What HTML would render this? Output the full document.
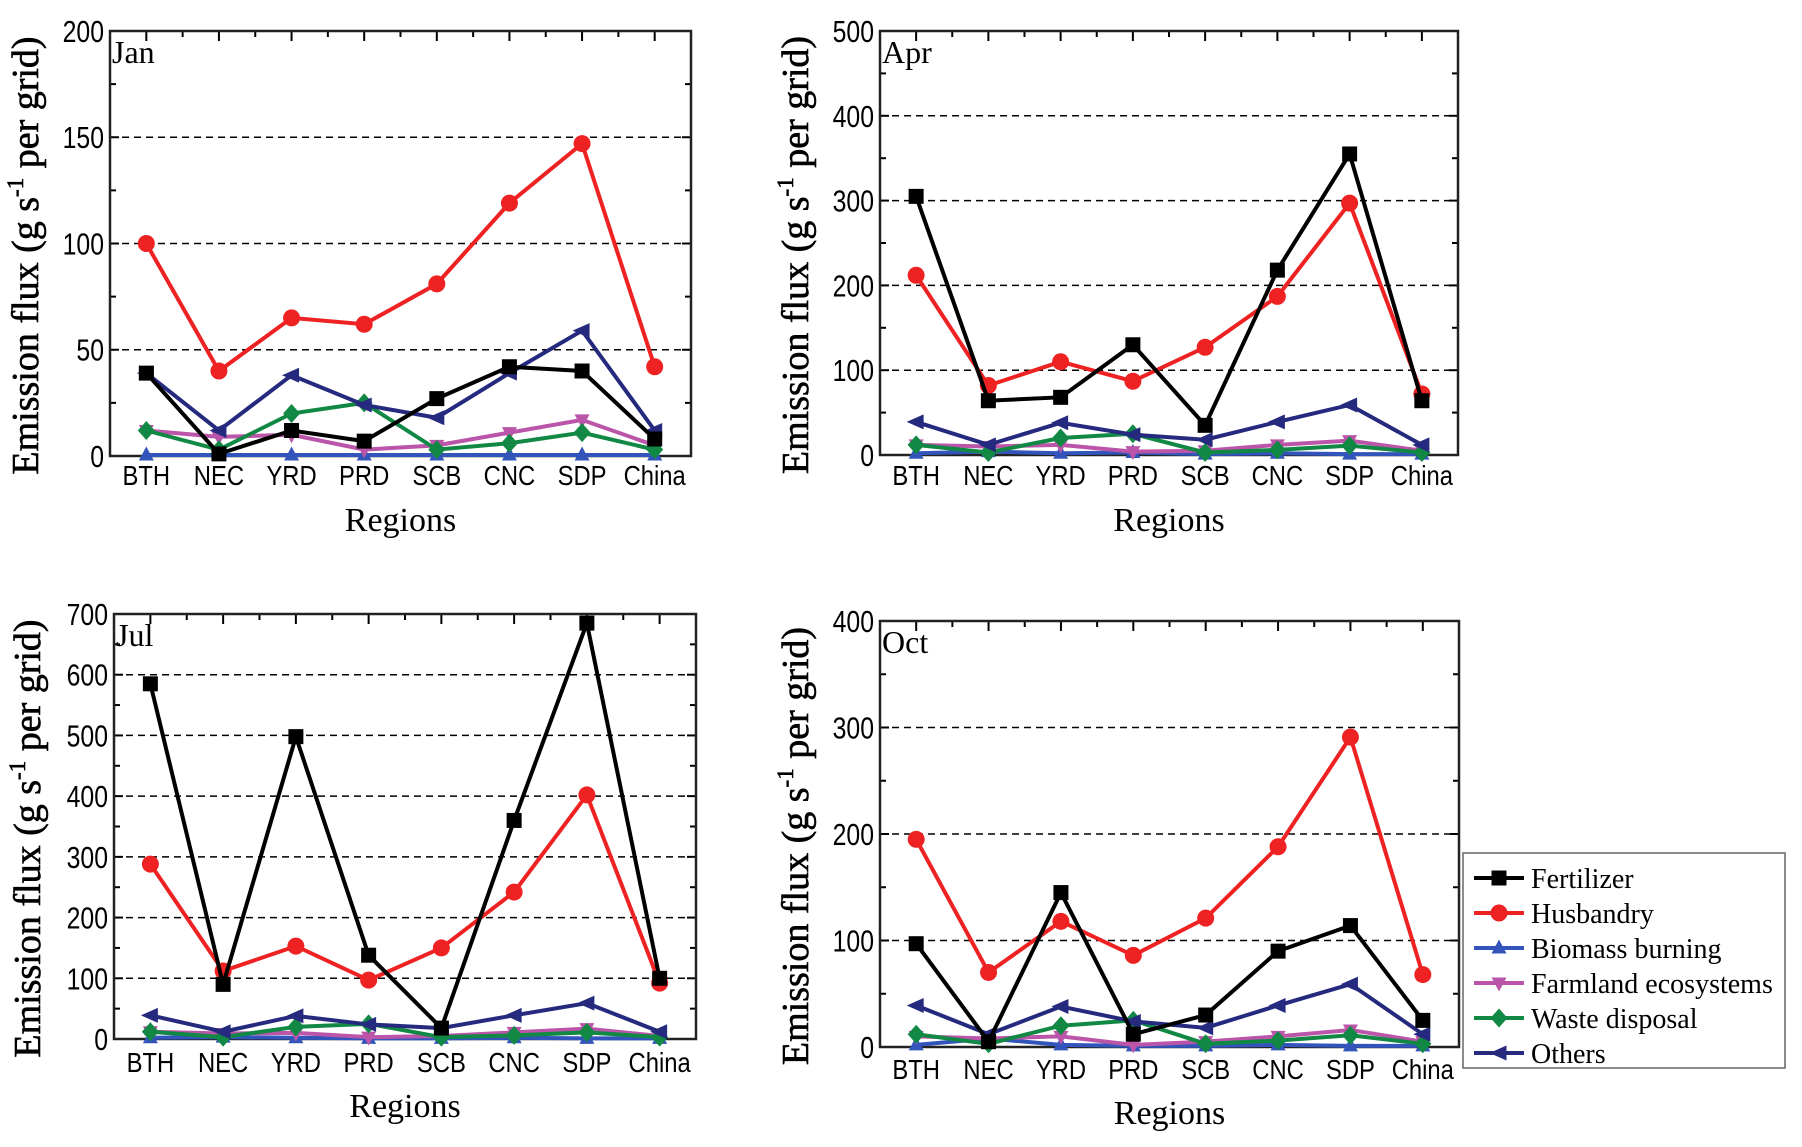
<!DOCTYPE html>
<html><head><meta charset="utf-8"><style>
html,body{margin:0;padding:0;background:#fff;width:1802px;height:1147px;overflow:hidden}
svg{display:block}
</style></head><body>
<svg id="fig" width="1802" height="1147" viewBox="0 0 1802 1147" xmlns="http://www.w3.org/2000/svg"></svg>
<script>
const categories = ["BTH","NEC","YRD","PRD","SCB","CNC","SDP","China"];
const seriesNames = ["Fertilizer","Husbandry","Biomass burning","Farmland ecosystems","Waste disposal","Others"];
const seriesColors = ["#000000","#ee2222","#3355bb","#bb55aa","#118844","#262a7e"];
const seriesMarkers = ["square","circle","up","down","diamond","left"];

const janFertilizer = [39,1,12,7,27,42,40,8];
const janHusbandry = [100,40,65,62,81,119,147,42];
const janBiomass = [0.5,0.5,0.5,0.5,0.5,0.5,0.5,0.5];
const janFarmland = [12,9,10,3,5,11,17,5];
const janWaste = [12,3,20,25,3,6,11,3];
const janOthers = [39,12,38,24,18,39,59,12];

const aprFertilizer = [305,64,68,130,35,218,355,64];
const aprHusbandry = [212,82,110,87,127,187,297,72];
const aprBiomass = [2,4,2,3,1,2,1,1];
const aprFarmland = [12,10,12,4,5,12,17,5];
const aprWaste = [12,3,20,25,3,6,11,3];
const aprOthers = [39,12,38,24,18,39,59,12];

const julFertilizer = [585,90,498,138,18,360,685,100];
const julHusbandry = [288,112,153,97,150,242,402,92];
const julBiomass = [2,3,2,1,1,2,1,1];
const julFarmland = [12,9,10,3,5,11,17,5];
const julWaste = [12,3,20,25,3,6,11,3];
const julOthers = [39,12,38,24,18,39,59,12];

const octFertilizer = [97,5,145,12,30,90,114,25];
const octHusbandry = [195,70,118,86,121,188,291,68];
const octBiomass = [2,8,2,1,1,2,1,1];
const octFarmland = [10,8,10,2,5,10,16,5];
const octWaste = [12,3,20,25,3,6,11,3];
const octOthers = [39,12,38,24,18,39,59,12];

const janTicks = [0,50,100,150,200];
const aprTicks = [0,100,200,300,400,500];
const julTicks = [0,100,200,300,400,500,600,700];
const octTicks = [0,100,200,300,400];

const NS="http://www.w3.org/2000/svg";
const svg=document.getElementById('fig');
function mk(tag,attrs,parent){const e=document.createElementNS(NS,tag);for(const k in attrs)e.setAttribute(k,attrs[k]);(parent||svg).appendChild(e);return e;}

function marker(g,type,x,y,color){
  const s=7.5;let e;
  if(type==="square"){e=mk('rect',{x:x-s,y:y-s,width:2*s,height:2*s,fill:color},g);}
  else if(type==="circle"){e=mk('circle',{cx:x,cy:y,r:s+1,fill:color},g);}
  else if(type==="up"){e=mk('polygon',{points:`${x},${y-s-1} ${x+s},${y+s-2} ${x-s},${y+s-2}`,fill:color},g);}
  else if(type==="down"){e=mk('polygon',{points:`${x},${y+s+1} ${x+s},${y-s+2} ${x-s},${y-s+2}`,fill:color},g);}
  else if(type==="diamond"){e=mk('polygon',{points:`${x},${y-s-2} ${x+s+1},${y} ${x},${y+s+2} ${x-s-1},${y}`,fill:color},g);}
  else {e=mk('polygon',{points:`${x-s-2},${y} ${x+s},${y-s} ${x+s},${y+s}`,fill:color},g);}
  
  
}

function panel(name,L,R,T,B,ticks,minorStep,series,labelY,titleY,axTitleX){
  const g=mk('g',{});
  
  
  const ymax=ticks[ticks.length-1];
  const ys=v=>B-(v/ymax)*(B-T);
  const xs=i=>L+(i+0.5)*(R-L)/categories.length;
  ticks.forEach(t=>{ if(t>0&&t<ymax){const l=mk('line',{x1:L,x2:R,y1:ys(t),y2:ys(t),stroke:'#000','stroke-width':1.5,'stroke-dasharray':'7,5'},g);
    
    }});
  for(let v=0;v<=ymax+0.001;v+=minorStep){const major=ticks.includes(v);const len=major?9:6;
    mk('line',{x1:L,x2:L+len,y1:ys(v),y2:ys(v),stroke:'#000','stroke-width':2},g);
    mk('line',{x1:R,x2:R-len,y1:ys(v),y2:ys(v),stroke:'#000','stroke-width':2},g);}
  const step=(R-L)/categories.length;
  for(let k=0;k<=2*categories.length;k++){const x=L+k*step/2;const major=k%2===1;
    mk('line',{x1:x,x2:x,y1:T,y2:T+(major?10:6),stroke:'#000','stroke-width':2},g);}
  const fr=mk('rect',{x:L,y:T,width:R-L,height:B-T,fill:'none',stroke:'#222','stroke-width':2.5},g);
  
  
  ticks.forEach(t=>{const tx=mk('text',{x:L-6,y:ys(t)+11,'text-anchor':'end','font-family':'Liberation Sans, sans-serif','font-size':31,transform:`translate(${L-6},0) scale(0.8,1) translate(${-(L-6)},0)`},g);tx.textContent=t;
    
    });
  categories.forEach((c,i)=>{const tx=mk('text',{x:xs(i),y:labelY,'text-anchor':'middle','font-family':'Liberation Sans, sans-serif','font-size':28,transform:`translate(${xs(i)},0) scale(0.85,1) translate(${-xs(i)},0)`},g);tx.textContent=c;
    
    });
  const rt=mk('text',{x:(L+R)/2,y:titleY,'text-anchor':'middle','font-family':'Liberation Serif, serif','font-size':34},g);rt.textContent='Regions';
  
  
  const cy=(T+B)/2+12;
  const yt=mk('text',{x:0,y:0,'text-anchor':'middle','font-family':'Liberation Serif, serif','font-size':38,'stroke':'#000','stroke-width':0.6,transform:`translate(${axTitleX},${cy}) rotate(-90)`},g);
  yt.innerHTML='Emission flux (g s<tspan dy="-15" font-size="23">-1</tspan><tspan dy="15"> per grid)</tspan>';
  
  
  const pl=mk('text',{x:L+2,y:T+32,'font-family':'Liberation Serif, serif','font-size':32},g);pl.textContent=name;
  
  
  const order=[2,3,4,5,1,0];
  order.forEach(si=>{const vals=series[si];const sg=mk('g',{},g);
    
    
    mk('polyline',{points:vals.map((v,i)=>xs(i)+','+ys(v)).join(' '),fill:'none',stroke:seriesColors[si],'stroke-width':4,'stroke-linejoin':'miter'},sg);
    vals.forEach((v,i)=>marker(sg,seriesMarkers[si],xs(i),ys(v),seriesColors[si]));});
}

panel('Jan',110,691,31,456,janTicks,25,[janFertilizer,janHusbandry,janBiomass,janFarmland,janWaste,janOthers],485,531,38);
panel('Apr',880,1458,31,455,aprTicks,50,[aprFertilizer,aprHusbandry,aprBiomass,aprFarmland,aprWaste,aprOthers],485,531,808);
panel('Jul',114,696,614,1039,julTicks,50,[julFertilizer,julHusbandry,julBiomass,julFarmland,julWaste,julOthers],1072,1117,40);
panel('Oct',880,1459,621,1047,octTicks,50,[octFertilizer,octHusbandry,octBiomass,octFarmland,octWaste,octOthers],1079,1124,808);

const lg=mk('g',{});


mk('rect',{x:1463,y:853,width:322,height:215,fill:'#fff',stroke:'#666','stroke-width':1.5},lg);
seriesNames.forEach((n,i)=>{const y=878+i*35;const eg=mk('g',{},lg);
  
  
  mk('line',{x1:1474,x2:1524,y1:y,y2:y,stroke:seriesColors[i],'stroke-width':4},eg);
  marker(eg,seriesMarkers[i],1499,y,seriesColors[i]);
  const t=mk('text',{x:1531,y:y+10,'font-family':'Liberation Serif, serif','font-size':28},eg);t.textContent=n;});
</script>
</body></html>
